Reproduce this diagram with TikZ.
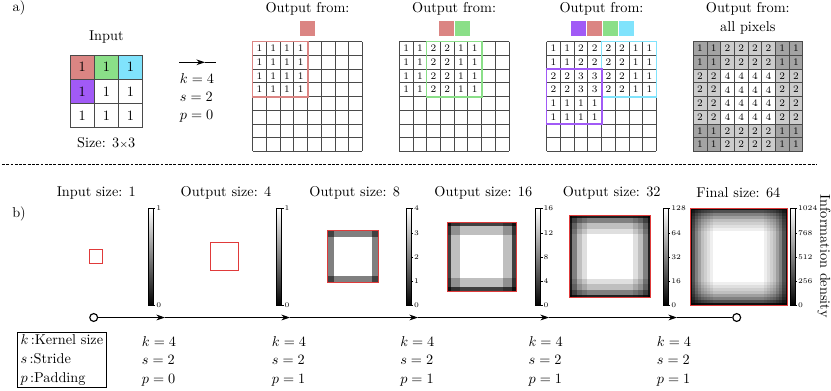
\documentclass[tikz,border=0pt]{standalone}
\usepackage{amsmath}
\usepackage{xcolor}
\usetikzlibrary{arrows.meta,positioning}
\definecolor{PixRed}{HTML}{DB8583}
\definecolor{PixGreen}{HTML}{8ADF88}
\definecolor{PixCyan}{HTML}{80E3FC}
\definecolor{PixPurple}{HTML}{A15AF6}
\definecolor{MapRed}{HTML}{E03A3A}
\definecolor{GridLine}{HTML}{4A4A4A}
\definecolor{heat1}{gray}{0.64}
\definecolor{heat2}{gray}{0.8}
\definecolor{heat4}{gray}{1}

% 8x8 output grid, top left corner at (#1,#2)
\newcommand\pixgrid[2]{%
  \foreach \i in {0,...,8}{%
    \draw[gridline] (#1+13.7*\i,#2) -- (#1+13.7*\i,#2+109.6);
    \draw[gridline] (#1,#2+13.7*\i) -- (#1+109.6,#2+13.7*\i);}}
% numbers in a grid: left, top, prefix, rows, extra style
\newcommand\pixrows[5]{%
  \foreach \r/\row in {#4}{%
    \foreach \v [count=\c from 0] in \row
      \node[pixnum,#5] (#3-\r-\c) at (#1+13.7*\c+6.85,#2+13.7*\r+6.85) {\v};}}
% heat map: left, top, side, N, max, runs start/length/value
\newcommand\heatmap[6]{%
  \foreach \sa/\la/\va in {#6}{%
    \foreach \sb/\lb/\vb in {#6}{%
      \pgfmathsetmacro\g{100/#5*\va*\vb}
      \fill[white!\g!black] (#1+#3*\sa/#4,#2+#3*\sb/#4) rectangle ++(#3*\la/#4+0.3,#3*\lb/#4+0.3);}}}
% colour bar: name, left x, labels value/fraction
\newcommand\colbar[3]{%
  \shade[bottom color=black,top color=white] (#2,208.5) rectangle (#2+5,305.5);
  \draw[line width=0.3pt] (#2,208.5) rectangle (#2+5,305.5);
  \foreach \t/\f in {#3}{%
    \draw[line width=0.3pt] (#2+5,305.5-97*\f) -- ++(2,0);
    \node[cbtick] (#1-\t) at (#2+7,305.5-97*\f) {\t};}}

\begin{document}
\begin{tikzpicture}[x=0.7pt,y=-0.7pt,
    gridline/.style={draw=GridLine,line width=0.45pt},
    pixnum/.style={font=\scriptsize,inner sep=0pt,minimum size=9.6pt},
    incell/.style={draw=GridLine,line width=0.5pt,minimum size=17pt,inner sep=0pt},
    colkey/.style={minimum width=10.8pt,minimum height=10.3pt,inner sep=0pt},
    keyframe/.style={line width=1pt},
    mapframe/.style={draw=MapRed,line width=0.6pt,inner sep=0pt},
    cbtick/.style={font=\tiny,inner sep=0.5pt,anchor=west},
    flow/.style={-{Stealth[length=6pt,width=4pt]},line width=0.8pt},
    endpt/.style={circle,draw,line width=0.8pt,fill=white,minimum size=5.5pt,inner sep=0pt},
    params/.style={align=left,anchor=west,inner sep=0pt}
]
\useasboundingbox (0,0) rectangle (831,390);

\node (parta) at (19,8) {a)};
\node (partb) at (19,214) {b)};

% a) input and kernel
\node (intitle) at (106.3,36.7) {Input};
\foreach \r/\c/\col in {0/0/PixRed,0/1/PixGreen,0/2/PixCyan,1/0/PixPurple,1/1/white,1/2/white,2/0/white,2/1/white,2/2/white}
  \node[incell,fill=\col] (in-\r-\c) at (82.1+24.23*\c,67.1+24.23*\r) {1};
\node (insize) at (106.3,143) {Size: 3{\scriptsize$\times$}3};

\coordinate (ka) at (179,62.3);
\coordinate (kb) at (205,62.3);
\coordinate (kc) at (216,62.3);
\draw[flow] (ka) -- (kb);
\draw[line width=0.8pt] (kb) -- (kc);
\node[params,anchor=center] (kspa) at (197,98) {$k=4$\\[0.6pt]$s=2$\\[0.6pt]$p=0$};

% a) output grids
\node (ttl1) at (307.5,9.3) {Output from:};
\node[colkey,fill=PixRed] (key1r) at (307.5,28.4) {};
\pixrows{252.7}{41.7}{ga}{0/{1,1,1,1},1/{1,1,1,1},2/{1,1,1,1},3/{1,1,1,1}}{}
\pixgrid{252.7}{41.7}
\draw[keyframe,draw=PixRed] (ga-0-0.north west) rectangle (ga-3-3.south east);

\node (ttl2) at (454.1,9.3) {Output from:};
\node[colkey,fill=PixRed] (key2r) at (446.4,28.4) {};
\node[colkey,fill=PixGreen,right=0pt of key2r] (key2g) {};
\pixrows{399.3}{41.7}{gb}{0/{1,1,2,2,1,1},1/{1,1,2,2,1,1},2/{1,1,2,2,1,1},3/{1,1,2,2,1,1}}{}
\pixgrid{399.3}{41.7}
\draw[keyframe,draw=PixGreen] (gb-0-2.north west) rectangle (gb-3-5.south east);

\node (ttl3) at (601.5,9.3) {Output from:};
\node[colkey,fill=PixPurple] (key3p) at (578.4,28.4) {};
\node[colkey,fill=PixRed,right=0pt of key3p] (key3r) {};
\node[colkey,fill=PixGreen,right=0pt of key3r] (key3g) {};
\node[colkey,fill=PixCyan,right=0pt of key3g] (key3c) {};
\pixrows{546.7}{41.7}{gc}{0/{1,1,2,2,2,2,1,1},1/{1,1,2,2,2,2,1,1},2/{2,2,3,3,2,2,1,1},3/{2,2,3,3,2,2,1,1},4/{1,1,1,1},5/{1,1,1,1}}{}
\pixgrid{546.7}{41.7}
\draw[keyframe,draw=PixCyan] (gc-0-4.north west) rectangle (gc-3-7.south east);
\draw[keyframe,draw=PixPurple] (gc-2-0.north west) rectangle (gc-5-3.south east);

\node[align=center] (ttl4) at (747.8,18.6) {Output from:\\[1pt]all pixels};
\pixrows{693.2}{41.7}{gd}{0/{1,1,2,2,2,2,1,1},1/{1,1,2,2,2,2,1,1},2/{2,2,4,4,4,4,2,2},3/{2,2,4,4,4,4,2,2},4/{2,2,4,4,4,4,2,2},5/{2,2,4,4,4,4,2,2},6/{1,1,2,2,2,2,1,1},7/{1,1,2,2,2,2,1,1}}{fill=heat\v}
\pixgrid{693.2}{41.7}

\coordinate (sepl) at (2,164);
\coordinate (sepr) at (817,164);
\draw[dash pattern=on 2pt off 1pt,line width=0.6pt] (sepl) -- (sepr);

% b) growth of the output
\node (tin1) at (96.3,192.7) {Input size: 1};
\node (tout4) at (226,192.7) {Output size: 4};
\node (tout8) at (354.7,192.7) {Output size: 8};
\node (tout16) at (483.3,192.7) {Output size: 16};
\node (tout32) at (611.7,192.7) {Output size: 32};
\node (tfin64) at (738.3,192.7) {Final size: 64};

\node[mapframe,minimum size=9.3pt] (map1) at (96,256.5) {};
\node[mapframe,minimum size=19.6pt] (map4) at (224.5,256.5) {};
\heatmap{327.3}{230.8}{51.4}{8}{4}{0/1/1,1/6/2,7/1/1}
\node[mapframe,minimum size=36pt] (map8) at (353,256.5) {};
\heatmap{447}{222}{69}{16}{16}{0/1/1,1/2/3,3/10/4,13/2/3,15/1/1}
\node[mapframe,minimum size=48.3pt] (map16) at (481.5,256.5) {};
\heatmap{569.3}{215.8}{81.4}{32}{64}{0/1/1,1/2/4,3/2/6,5/2/7,7/18/8,25/2/7,27/2/6,29/2/4,31/1/1}
\node[mapframe,minimum size=57pt] (map32) at (610,256.5) {};
\heatmap{690}{208}{97}{64}{256}{0/1/1,1/2/5,3/2/8,5/2/10,7/2/12,9/2/13,11/2/14,13/2/15,15/34/16,49/2/15,51/2/14,53/2/13,55/2/12,57/2/10,59/2/8,61/2/5,63/1/1}
\node[mapframe,minimum size=67.9pt] (map64) at (738.5,256.5) {};

\colbar{cba}{148.3}{1/1,0/0}
\colbar{cbb}{276.7}{1/1,0/0}
\colbar{cbc}{406}{4/1,3/0.75,2/0.5,1/0.25,0/0}
\colbar{cbd}{535.5}{16/1,12/0.75,8/0.5,4/0.25,0/0}
\colbar{cbe}{663.3}{128/1,64/0.75,32/0.5,16/0.25,0/0}
\colbar{cbf}{790}{1024/1,768/0.75,512/0.5,256/0.25,0/0}
\node[rotate=-90] (infoden) at (824,256) {Information density};

% timeline
\node[endpt] (tstart) at (93.7,317.5) {};
\coordinate (s1) at (165,317.5);
\coordinate (s2) at (290,317.5);
\coordinate (s3) at (418,317.5);
\coordinate (s4) at (549,317.5);
\coordinate (s5) at (677,317.5);
\node[endpt] (tend) at (736.7,317.5) {};
\draw[flow] (tstart) -- (s1);
\draw[flow] (s1) -- (s2);
\draw[flow] (s2) -- (s3);
\draw[flow] (s3) -- (s4);
\draw[flow] (s4) -- (s5);
\draw[line width=0.8pt] (s5) -- (tend);

\node[draw,line width=0.6pt,align=left,inner sep=2pt,anchor=north west] (legend) at (17.3,331.7) {$k\,$:Kernel size\\[1pt]$s\,$:Stride\\[1pt]$p\,$:Padding};
\node[params] (par1) at (141.7,361) {$k=4$\\[1pt]$s=2$\\[1pt]$p=0$};
\node[params] (par2) at (271.7,361) {$k=4$\\[1pt]$s=2$\\[1pt]$p=1$};
\node[params] (par3) at (400,361) {$k=4$\\[1pt]$s=2$\\[1pt]$p=1$};
\node[params] (par4) at (528.3,361) {$k=4$\\[1pt]$s=2$\\[1pt]$p=1$};
\node[params] (par5) at (656.7,361) {$k=4$\\[1pt]$s=2$\\[1pt]$p=1$};
\end{tikzpicture}
\end{document}
